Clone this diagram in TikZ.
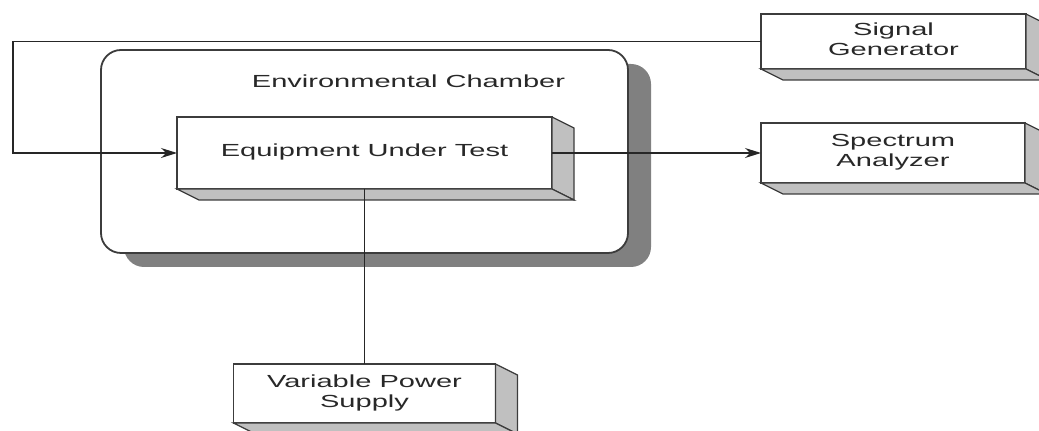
\documentclass[tikz,border=0pt]{standalone}
\usepackage{fontspec}
\setmainfont{Liberation Sans}
\usepackage{graphicx}
\usetikzlibrary{arrows.meta, calc, shadows}
\definecolor{edgecol}{RGB}{60,60,60}
\definecolor{sidecol}{RGB}{192,192,192}
\definecolor{shadecol}{RGB}{128,128,128}
\definecolor{textcol}{RGB}{40,40,40}
% text of the scan is stretched sideways
\newcommand{\wide}[1]{\scalebox{1.66}[1]{\begin{tabular}{@{}c@{}}#1\end{tabular}}}
% right and bottom faces of a boxed unit
\newcommand{\slab}[1]{%
  \filldraw[depthface] (#1.north east) -- ++(22,11) -- ($(#1.south east)+(22,11)$) -- (#1.south east) -- cycle;
  \filldraw[depthface] (#1.south west) -- (#1.south east) -- ++(22,11) -- ($(#1.south west)+(22,11)$) -- cycle;}
\tikzset{
  unit/.style={draw=edgecol, line width=0.8pt, fill=white, inner sep=0pt, outer sep=0pt, text=textcol},
  depthface/.style={fill=sidecol, draw=edgecol, line width=0.6pt},
  chamberbox/.style={draw=edgecol, line width=0.9pt, fill=white, rounded corners=10pt,
    drop shadow={shadow xshift=11.5pt, shadow yshift=-7pt, fill=shadecol, opacity=1}},
  conn/.style={draw=black!85, line width=0.6pt}
}

\begin{document}
\begin{tikzpicture}[
    x=0.5pt, y=-0.5pt,
    >={Stealth[length=8pt, width=5pt]},
    font=\fontsize{8.75}{10}\selectfont
  ]
  \clip (0,0) rectangle (1039,431);

  % --- chamber ---------------------------------------------------------
  \node[chamberbox, minimum width=263.5pt, minimum height=101.5pt] (chamber) at (364.5,151.5) {};
  \node[text=textcol] (chtitle) at (408.5,84) {\wide{Environmental Chamber}};

  % --- units -------------------------------------------------------------
  \node[unit, minimum width=187.5pt, minimum height=36pt] (eut) at (364.5,153) {\wide{Equipment Under Test}};
  \slab{eut}
  \node[unit, minimum width=132.5pt, minimum height=27.5pt] (siggen) at (893.5,41.5) {\wide{Signal\\Generator}};
  \slab{siggen}
  \node[unit, minimum width=132pt, minimum height=30pt] (specan) at (893,153) {\wide{Spectrum\\Analyzer}};
  \slab{specan}
  \node[unit, minimum width=131pt, minimum height=29.5pt] (supply) at (364.5,393.5) {\wide{Variable Power\\Supply}};
  \slab{supply}

  % --- wiring --------------------------------------------------------------
  \coordinate (feedbend) at (13,153);
  \draw[conn, ->] (siggen.west) -| (feedbend) -- (eut.west);
  \draw[conn, ->] (eut.east) -- (specan.west);
  \draw[conn] (eut.south) -- (supply.north);

\end{tikzpicture}
\end{document}
